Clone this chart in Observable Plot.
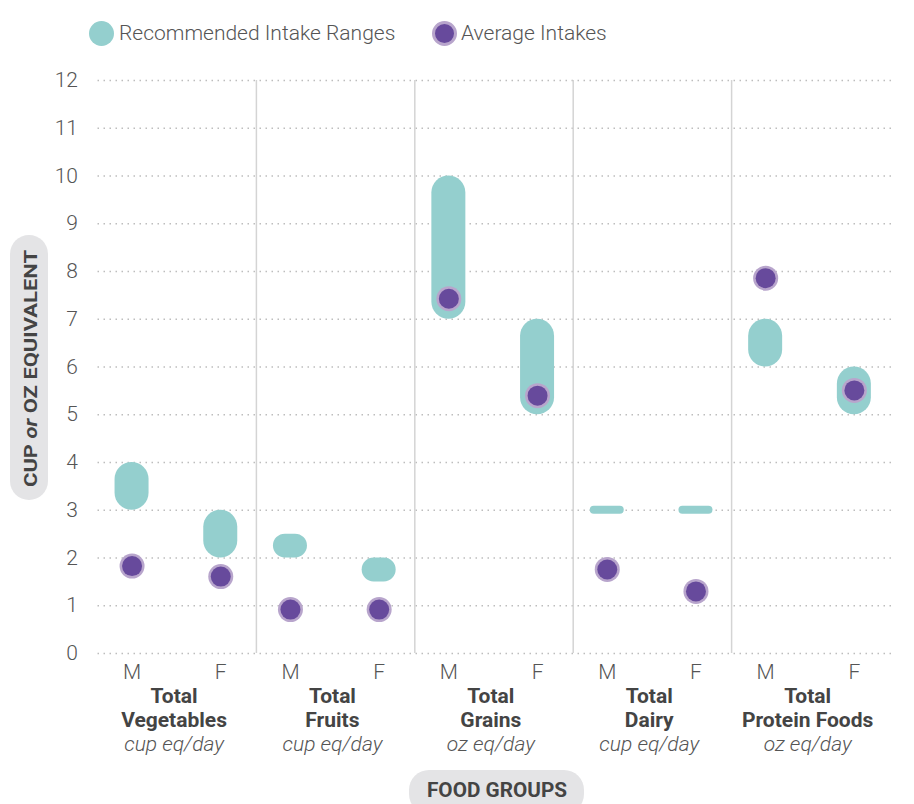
<!DOCTYPE html>
<html><head><meta charset="utf-8">
<script src="https://cdn.jsdelivr.net/npm/d3@7"></script>
<script src="https://cdn.jsdelivr.net/npm/@observablehq/plot@0.6"></script>
<style>
body{margin:0;background:#fff;font-family:Roboto,"Noto Sans",sans-serif;}
#wrap{position:relative;width:914px;height:804px;overflow:hidden;}
#legend{position:relative;height:60px;}
.sw{position:absolute;top:21px;width:25px;height:25px;border-radius:50%;box-sizing:border-box;}
.lt{position:absolute;top:21px;line-height:25px;font-size:21px;font-weight:300;color:#555;white-space:nowrap;}
</style>
</head><body>
<div id="wrap">
  <div id="legend">
    <div class="sw" style="left:89px;background:#94cfce"></div>
    <div class="lt" style="left:119px">Recommended Intake Ranges</div>
    <div class="sw" style="left:432px;background:#674a9c;border:3px solid #b8a5cc"></div>
    <div class="lt" style="left:461px">Average Intakes</div>
  </div>
  <div id="chart"></div>
</div>
<script>
// ---- data ----
const groups = ["Total\nVegetables", "Total\nFruits", "Total\nGrains", "Total\nDairy", "Total\nProtein Foods"];
const units = ["cup eq/day", "cup eq/day", "oz eq/day", "cup eq/day", "oz eq/day"];
const sexes = ["M", "F"];
const recLowM  = [3, 2,   7,  3, 6];
const recHighM = [4, 2.5, 10, 3, 7];
const recLowF  = [2, 1.5, 5,  3, 5];
const recHighF = [3, 2,   7,  3, 6];
const avgM = [1.83, 0.92, 7.43, 1.76, 7.86];
const avgF = [1.61, 0.92, 5.40, 1.30, 5.51];
const yTicks = [0, 1, 2, 3, 4, 5, 6, 7, 8, 9, 10, 11, 12];

// ---- build table ----
const rows = [];
groups.forEach((g, i) => {
  sexes.forEach(s => {
    const m = s === "M";
    rows.push({
      i, group: g, sex: s,
      low: m ? recLowM[i] : recLowF[i],
      high: m ? recHighM[i] : recHighF[i],
      avg: m ? avgM[i] : avgF[i]
    });
  });
});
const groupRows = groups.map((g, i) => ({i, group: g, unit: units[i]}));
const pos = d => d.i + (d.sex === "M" ? 0.215 : 0.775);
const mid = d => d.i + 0.48;
const separators = groupRows.slice(1).map(d => d.i);

const chart = Plot.plot({
  width: 914,
  height: 744,
  marginTop: 20,
  marginBottom: 151,
  marginLeft: 97.5,
  marginRight: 24.5,
  x: {domain: [0, groups.length], axis: null},
  y: {domain: [0, 12], ticks: yTicks, tickSize: 0, tickPadding: 20, label: null},
  style: {fontFamily: "Roboto, sans-serif", fontSize: "21px", color: "#555", fontWeight: 300, background: "#fff"},
  marks: [
    Plot.ruleY(yTicks, {stroke: "#bdbdbd", strokeWidth: 1.5, strokeDasharray: "1.5,4.5", insetRight: -6}),
    Plot.ruleX(separators, {stroke: "#d4d4d4", strokeWidth: 1.5}),
    Plot.rect(rows.filter(d => d.high > d.low), {
      x1: pos, x2: pos, y1: "low", y2: "high",
      insetLeft: -17, insetRight: -17, fill: "#94cfce", className: "cap"
    }),
    Plot.rect(rows.filter(d => d.high === d.low), {
      x1: pos, x2: pos, y1: "low", y2: "high",
      insetLeft: -17, insetRight: -17, insetTop: -4, insetBottom: -4, fill: "#94cfce", className: "cap"
    }),
    Plot.dot(rows, {x: pos, y: "avg", r: 12.5, fill: "#b8a5cc"}),
    Plot.dot(rows, {x: pos, y: "avg", r: 10, fill: "#674a9c"}),
    Plot.text(rows, {x: pos, y: 0, text: "sex", dy: 19, fill: "#555", fontSize: 21, fontWeight: 300}),
    Plot.text(groupRows, {x: mid, y: 0, text: "group", dy: 54, lineHeight: 1.15, fill: "#444", fontSize: 21, fontWeight: "bold"}),
    Plot.text(groupRows, {x: mid, y: 0, text: "unit", dy: 91, fill: "#555", fontSize: 21, fontWeight: 300, fontStyle: "italic"})
  ]
});

// rounded capsule corners
d3.select(chart).selectAll("g.cap rect").each(function() {
  const w = +this.getAttribute("width"), h = +this.getAttribute("height");
  const r = Math.min(17, w / 2, h / 2);
  this.setAttribute("rx", r);
  this.setAttribute("ry", r);
});

const svg = d3.select(chart);
// y axis title pill
const yl = svg.append("g");
yl.append("rect").attr("x", 10).attr("y", 175).attr("width", 38).attr("height", 265).attr("rx", 19).attr("fill", "#e4e4e6");
const yt = yl.append("text")
  .attr("transform", "translate(36.5,308.5) rotate(-90)")
  .attr("text-anchor", "middle")
  .attr("font-size", 19).attr("font-weight", "bold").attr("fill", "#444")
  .attr("textLength", 237).attr("lengthAdjust", "spacingAndGlyphs");
yt.append("tspan").text("CUP ");
yt.append("tspan").attr("font-style", "italic").text("or");
yt.append("tspan").text(" OZ EQUIVALENT");

// x axis title pill
const xl = svg.append("g");
xl.append("rect").attr("x", 409).attr("y", 710).attr("width", 175).attr("height", 44).attr("rx", 20).attr("fill", "#e4e4e6");
xl.append("text").attr("x", 497).attr("y", 736.7).attr("text-anchor", "middle")
  .attr("font-size", 21).attr("font-weight", "bold").attr("fill", "#444")
  .attr("textLength", 140).attr("lengthAdjust", "spacingAndGlyphs")
  .text("FOOD GROUPS");

document.getElementById("chart").appendChild(chart);
</script>
</body></html>
